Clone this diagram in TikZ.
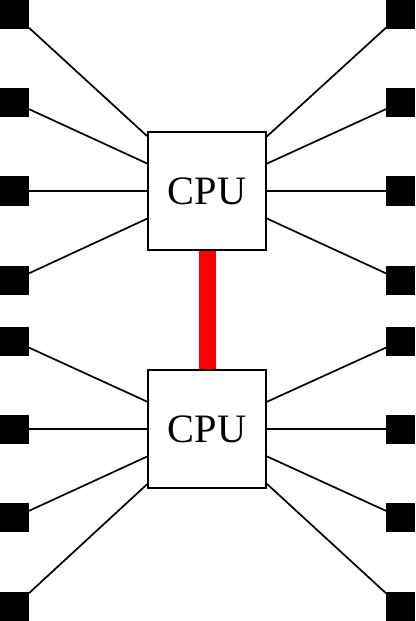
\documentclass[tikz,border=0pt]{standalone}
\usepackage{fontspec}
\setmainfont{Liberation Serif}
\begin{document}
\begin{tikzpicture}[x=1bp,y=-1bp,
  pin/.style={fill=black,draw=none,inner sep=0,minimum size=29bp,outer sep=0},
  cpu/.style={draw=black,fill=white,line width=1.8bp,inner sep=0,minimum size=118bp,font=\fontsize{40.5}{48}\selectfont},
  wire/.style={black,line width=1.7bp},
  bus/.style={red,line width=17bp}]
\useasboundingbox (0,0) rectangle (415,621);
\node[cpu] (c1) at (207,191) {CPU};
\node[cpu] (c2) at (207,429) {CPU};
\foreach \i/\y in {1/14.5,2/102.5,3/191,4/280,5/341,6/429,7/517.5,8/606.5}{
  \node[pin] (l\i) at (14.5,\y) {};
  \node[pin] (r\i) at (400.5,\y) {};
}
\foreach \i in {1,2,3,4}{
  \draw[wire] (l\i) -- (c1);
  \draw[wire] (r\i) -- (c1);
}
\foreach \i in {5,6,7,8}{
  \draw[wire] (l\i) -- (c2);
  \draw[wire] (r\i) -- (c2);
}
\draw[bus] (c1) -- (c2);
\end{tikzpicture}
\end{document}
